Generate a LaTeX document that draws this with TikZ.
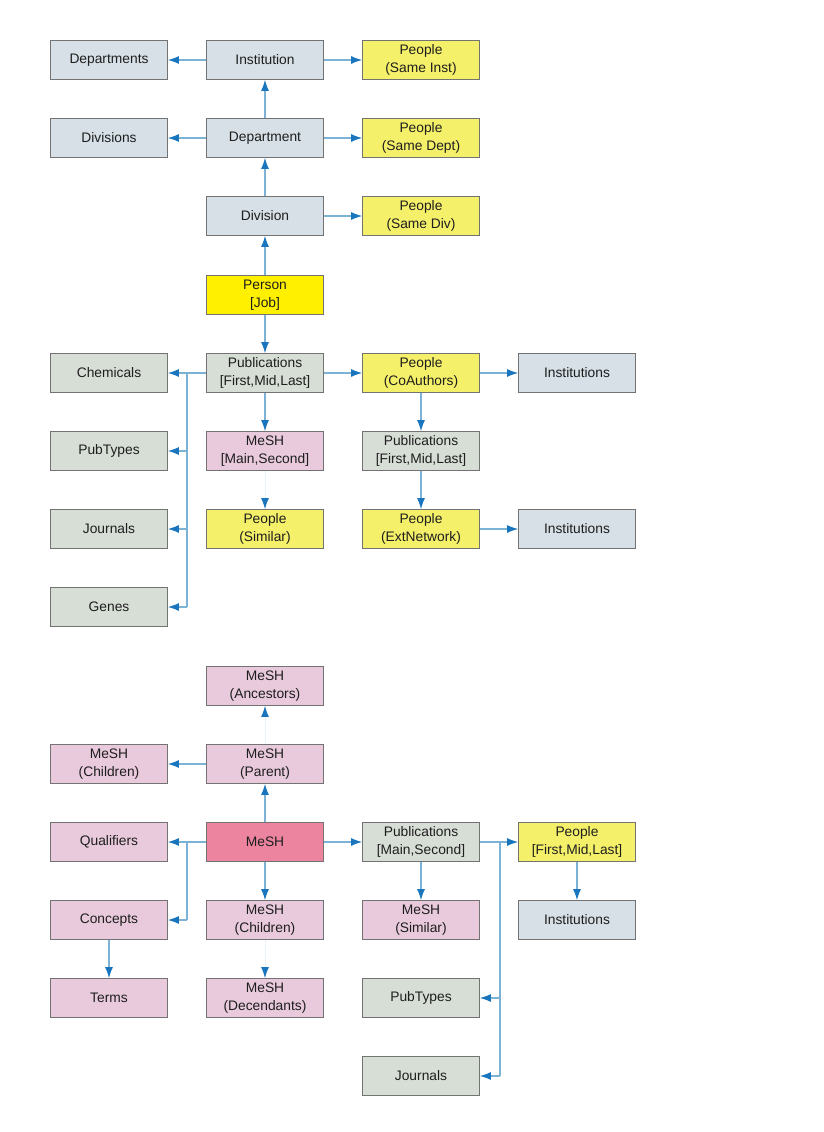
\documentclass[tikz,border=0pt]{standalone}
\usepackage{fontspec}
\setmainfont{Liberation Sans}
\usepackage{tikz}
\usetikzlibrary{arrows.meta}
\definecolor{colinst}{RGB}{214,224,230}
\definecolor{colpub}{RGB}{215,222,214}
\definecolor{colppl}{RGB}{245,240,105}
\definecolor{colme}{RGB}{255,240,0}
\definecolor{colmesh}{RGB}{232,202,220}
\definecolor{colmain}{RGB}{236,132,160}
\definecolor{colline}{RGB}{125,178,215}
\definecolor{coltip}{RGB}{25,118,190}
\definecolor{coltext}{RGB}{30,30,30}
\tikzstyle{every node}=[font=\fontsize{13.8}{17.8}\selectfont, text=coltext]
\tikzstyle{card}=[draw=black!55, line width=0.8pt, minimum width=117pt, minimum height=39pt, align=center, inner sep=0pt]
\tikzstyle{wire}=[draw=colline, line width=1.1pt]
\tikzstyle{link}=[wire, -{Latex[length=11pt,width=8pt,color=coltip]}]
\tikzstyle{faint}=[draw=colline!30, line width=1pt, densely dotted, -{Latex[length=11pt,width=8pt,color=coltip]}]

\begin{document}
\begin{tikzpicture}[x=1pt,y=-1pt]
\useasboundingbox[fill=white] (0,0) rectangle (824,1132);

% person network
\node[card, fill=colinst] (depts) at (109,60) {Departments};
\node[card, fill=colinst] (inst) at (265,60) {Institution};
\node[card, fill=colppl] (pinst) at (421,60) {People\\(Same Inst)};
\node[card, fill=colinst] (divs) at (109,138) {Divisions};
\node[card, fill=colinst] (dept) at (265,138) {Department};
\node[card, fill=colppl] (pdept) at (421,138) {People\\(Same Dept)};
\node[card, fill=colinst] (div) at (265,216) {Division};
\node[card, fill=colppl] (pdiv) at (421,216) {People\\(Same Div)};
\node[card, fill=colme] (person) at (265,295) {Person\\{[}Job{]}};
\node[card, fill=colpub] (chem) at (109,373) {Chemicals};
\node[card, fill=colpub] (pubs) at (265,373) {Publications\\{[}First,Mid,Last{]}};
\node[card, fill=colppl] (coauth) at (421,373) {People\\(CoAuthors)};
\node[card, fill=colinst] (instA) at (577,373) {Institutions};
\node[card, fill=colpub] (ptypes) at (109,451) {PubTypes};
\node[card, fill=colmesh] (meshms) at (265,451) {MeSH\\{[}Main,Second{]}};
\node[card, fill=colpub] (copubs) at (421,451) {Publications\\{[}First,Mid,Last{]}};
\node[card, fill=colpub] (jrnls) at (109,529) {Journals};
\node[card, fill=colppl] (psim) at (265,529) {People\\(Similar)};
\node[card, fill=colppl] (extnet) at (421,529) {People\\(ExtNetwork)};
\node[card, fill=colinst] (instB) at (577,529) {Institutions};
\node[card, fill=colpub] (genes) at (109,607) {Genes};

\draw[link] (inst) -- (depts);
\draw[link] (inst) -- (pinst);
\draw[link] (dept) -- (inst);
\draw[link] (dept) -- (divs);
\draw[link] (dept) -- (pdept);
\draw[link] (div) -- (dept);
\draw[link] (div) -- (pdiv);
\draw[link] (person) -- (div);
\draw[link] (person) -- (pubs);
\draw[link] (pubs) -- (chem);
\coordinate (brA) at (187,373);
\draw[wire] (brA) -- (brA |- genes);
\foreach \n in {ptypes,jrnls,genes}
  \draw[link] (brA |- \n) -- (\n.east);
\draw[link] (pubs) -- (coauth);
\draw[link] (coauth) -- (instA);
\draw[link] (coauth) -- (copubs);
\draw[link] (copubs) -- (extnet);
\draw[link] (extnet) -- (instB);
\draw[link] (pubs) -- (meshms);
\draw[faint] (meshms) -- (psim);

% mesh network
\node[card, fill=colmesh] (anc) at (265,686) {MeSH\\(Ancestors)};
\node[card, fill=colmesh] (kidsA) at (109,764) {MeSH\\(Children)};
\node[card, fill=colmesh] (parent) at (265,764) {MeSH\\(Parent)};
\node[card, fill=colmesh] (quals) at (109,842) {Qualifiers};
\node[card, fill=colmain] (mesh) at (265,842) {MeSH};
\node[card, fill=colpub] (mpubs) at (421,842) {Publications\\{[}Main,Second{]}};
\node[card, fill=colppl] (mppl) at (577,842) {People\\{[}First,Mid,Last{]}};
\node[card, fill=colmesh] (concepts) at (109,920) {Concepts};
\node[card, fill=colmesh] (kidsB) at (265,920) {MeSH\\(Children)};
\node[card, fill=colmesh] (msim) at (421,920) {MeSH\\(Similar)};
\node[card, fill=colinst] (instC) at (577,920) {Institutions};
\node[card, fill=colmesh] (terms) at (109,998) {Terms};
\node[card, fill=colmesh] (desc) at (265,998) {MeSH\\(Decendants)};
\node[card, fill=colpub] (mtypes) at (421,998) {PubTypes};
\node[card, fill=colpub] (mjrnls) at (421,1076) {Journals};

\draw[faint] (parent) -- (anc);
\draw[link] (parent) -- (kidsA);
\draw[link] (mesh) -- (parent);
\draw[link] (mesh) -- (quals);
\coordinate (brB) at (187,842);
\draw[wire] (brB) -- (brB |- concepts);
\draw[link] (brB |- concepts) -- (concepts.east);
\draw[link] (concepts) -- (terms);
\draw[link] (mesh) -- (kidsB);
\draw[faint] (kidsB) -- (desc);
\draw[link] (mesh) -- (mpubs);
\draw[link] (mpubs) -- (mppl);
\coordinate (brC) at (500,842);
\draw[wire] (brC) -- (brC |- mjrnls);
\foreach \n in {mtypes,mjrnls}
  \draw[link] (brC |- \n) -- (\n.east);
\draw[link] (mpubs) -- (msim);
\draw[link] (mppl) -- (instC);

\end{tikzpicture}
\end{document}
